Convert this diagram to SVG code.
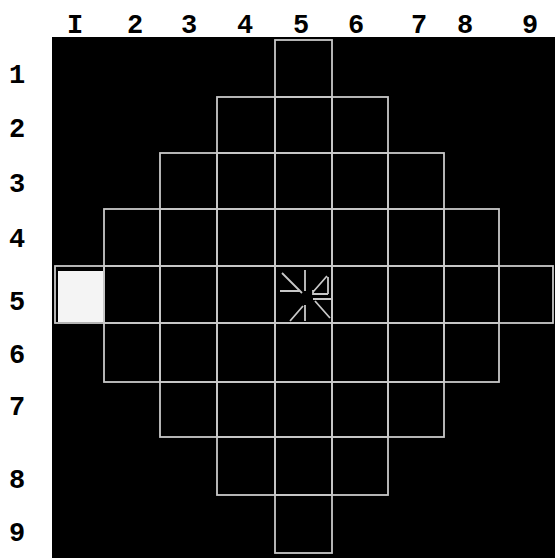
<svg xmlns="http://www.w3.org/2000/svg" width="555" height="558" viewBox="0 0 555 558">
<style>
.lbl{font-family:"Liberation Mono","DejaVu Sans Mono",monospace;font-weight:bold;font-size:27px;fill:#000;text-anchor:middle}
.cell{fill:none;stroke:#c8c8c8;stroke-width:1.8}
.mark{stroke:#c8c8c8;stroke-width:1.8;fill:none}
</style>
<rect x="0" y="0" width="555" height="558" fill="#fff"/>
<rect x="52" y="37" width="503" height="521" fill="#000"/>
<g id="col-labels">
<text class="lbl" x="75" y="33">I</text>
<text class="lbl" x="135" y="33">2</text>
<text class="lbl" x="189" y="33">3</text>
<text class="lbl" x="245" y="33">4</text>
<text class="lbl" x="301" y="33">5</text>
<text class="lbl" x="356" y="33">6</text>
<text class="lbl" x="419" y="33">7</text>
<text class="lbl" x="465" y="33">8</text>
<text class="lbl" x="530" y="33">9</text>
</g>
<g id="row-labels">
<text class="lbl" x="17" y="83">1</text>
<text class="lbl" x="17" y="137">2</text>
<text class="lbl" x="17" y="192">3</text>
<text class="lbl" x="17" y="247">4</text>
<text class="lbl" x="17" y="310">5</text>
<text class="lbl" x="17" y="363">6</text>
<text class="lbl" x="17" y="415">7</text>
<text class="lbl" x="17" y="488">8</text>
<text class="lbl" x="17" y="541">9</text>
</g>
<g id="cell-1-5"><rect class="cell" x="275" y="40" width="57" height="57"/></g>
<g id="cell-2-4"><rect class="cell" x="217" y="97" width="58" height="56"/></g>
<g id="cell-2-5"><rect class="cell" x="275" y="97" width="57" height="56"/></g>
<g id="cell-2-6"><rect class="cell" x="332" y="97" width="56" height="56"/></g>
<g id="cell-3-3"><rect class="cell" x="160" y="153" width="57" height="56"/></g>
<g id="cell-3-4"><rect class="cell" x="217" y="153" width="58" height="56"/></g>
<g id="cell-3-5"><rect class="cell" x="275" y="153" width="57" height="56"/></g>
<g id="cell-3-6"><rect class="cell" x="332" y="153" width="56" height="56"/></g>
<g id="cell-3-7"><rect class="cell" x="388" y="153" width="56" height="56"/></g>
<g id="cell-4-2"><rect class="cell" x="104" y="209" width="56" height="57"/></g>
<g id="cell-4-3"><rect class="cell" x="160" y="209" width="57" height="57"/></g>
<g id="cell-4-4"><rect class="cell" x="217" y="209" width="58" height="57"/></g>
<g id="cell-4-5"><rect class="cell" x="275" y="209" width="57" height="57"/></g>
<g id="cell-4-6"><rect class="cell" x="332" y="209" width="56" height="57"/></g>
<g id="cell-4-7"><rect class="cell" x="388" y="209" width="56" height="57"/></g>
<g id="cell-4-8"><rect class="cell" x="444" y="209" width="55" height="57"/></g>
<g id="cell-5-1"><rect class="cell" x="55" y="266" width="49" height="57"/><rect x="58" y="271" width="45" height="51" fill="#f4f4f4"/></g>
<g id="cell-5-2"><rect class="cell" x="104" y="266" width="56" height="57"/></g>
<g id="cell-5-3"><rect class="cell" x="160" y="266" width="57" height="57"/></g>
<g id="cell-5-4"><rect class="cell" x="217" y="266" width="58" height="57"/></g>
<g id="cell-5-5"><rect class="cell" x="275" y="266" width="57" height="57"/>
<path class="mark" d="M282 273L302 293M305 270V291M280 291H300M290 321L303 306M305 305V321M313 290V295M313 294H328M328 277V294M313 292L327 276M313 299H332M332 299V320M315 301L330 318"/></g>
<g id="cell-5-6"><rect class="cell" x="332" y="266" width="56" height="57"/></g>
<g id="cell-5-7"><rect class="cell" x="388" y="266" width="56" height="57"/></g>
<g id="cell-5-8"><rect class="cell" x="444" y="266" width="55" height="57"/></g>
<g id="cell-5-9"><rect class="cell" x="499" y="266" width="54" height="57"/></g>
<g id="cell-6-2"><rect class="cell" x="104" y="323" width="56" height="59"/></g>
<g id="cell-6-3"><rect class="cell" x="160" y="323" width="57" height="59"/></g>
<g id="cell-6-4"><rect class="cell" x="217" y="323" width="58" height="59"/></g>
<g id="cell-6-5"><rect class="cell" x="275" y="323" width="57" height="59"/></g>
<g id="cell-6-6"><rect class="cell" x="332" y="323" width="56" height="59"/></g>
<g id="cell-6-7"><rect class="cell" x="388" y="323" width="56" height="59"/></g>
<g id="cell-6-8"><rect class="cell" x="444" y="323" width="55" height="59"/></g>
<g id="cell-7-3"><rect class="cell" x="160" y="382" width="57" height="55"/></g>
<g id="cell-7-4"><rect class="cell" x="217" y="382" width="58" height="55"/></g>
<g id="cell-7-5"><rect class="cell" x="275" y="382" width="57" height="55"/></g>
<g id="cell-7-6"><rect class="cell" x="332" y="382" width="56" height="55"/></g>
<g id="cell-7-7"><rect class="cell" x="388" y="382" width="56" height="55"/></g>
<g id="cell-8-4"><rect class="cell" x="217" y="437" width="58" height="58"/></g>
<g id="cell-8-5"><rect class="cell" x="275" y="437" width="57" height="58"/></g>
<g id="cell-8-6"><rect class="cell" x="332" y="437" width="56" height="58"/></g>
<g id="cell-9-5"><rect class="cell" x="275" y="495" width="57" height="58"/></g>
<g id="connectors"></g>
</svg>
